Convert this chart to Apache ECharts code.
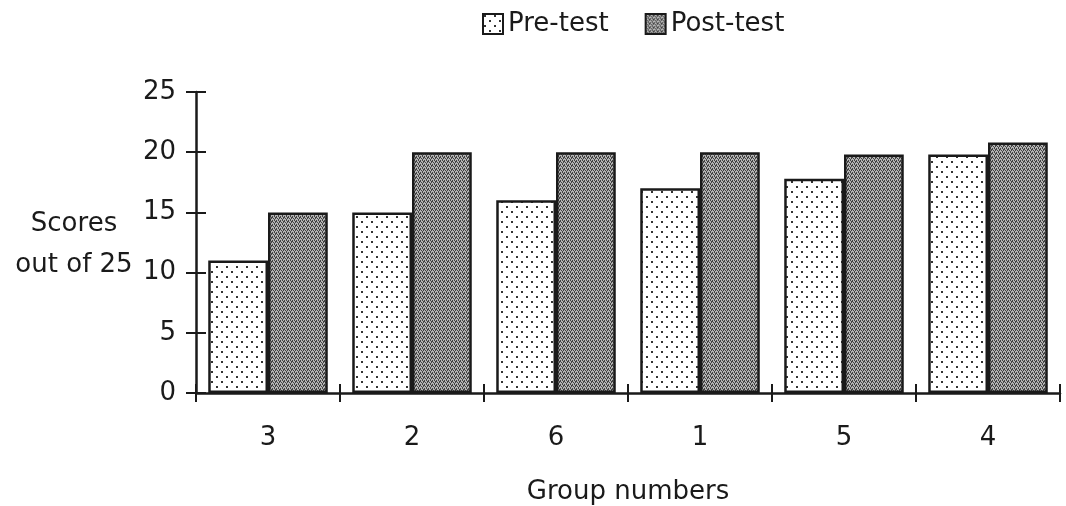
<!DOCTYPE html>
<html>
<head>
<meta charset="utf-8">
<script src="https://cdn.jsdelivr.net/npm/echarts@6/dist/echarts.min.js"></script>
<style>
  html, body { margin: 0; padding: 0; background: #fff; }
  #main { width: 1066px; height: 506px; }
</style>
</head>
<body>
<div id="main"></div>
<script>
let groups = ['3', '2', '6', '1', '5', '4']
let preTest = [11, 15, 16, 17, 17.8, 19.8]
let postTest = [15, 20, 20, 20, 19.8, 20.8]
let yTicks = [0, 5, 10, 15, 20, 25]

// dotted fills drawn on small canvases
function dots() {
    let c = document.createElement('canvas')
    c.width = 10; c.height = 10
    let g = c.getContext('2d')
    g.fillStyle = '#fff'
    g.fillRect(0, 0, 10, 10)
    g.fillStyle = '#333'
    g.fillRect(1, 1, 2, 2)
    g.fillRect(6, 6, 2, 2)
    return c
}
function grey() {
    let c = document.createElement('canvas')
    c.width = 4; c.height = 4
    let g = c.getContext('2d')
    g.fillStyle = '#b4b4b4'
    g.fillRect(0, 0, 4, 4)
    g.fillStyle = '#444'
    g.fillRect(0, 0, 1, 1)
    g.fillRect(2, 0, 1, 1)
    g.fillRect(1, 2, 1, 1)
    g.fillRect(3, 2, 1, 1)
    g.fillRect(0, 1, 1, 1)
    g.fillRect(2, 3, 1, 1)
    g.fillRect(3, 1, 1, 1)
    return c
}

let font = 'DejaVu Sans'
let ink = '#1a1a1a'
let fs = 26

var myChart = echarts.init(document.getElementById('main'))

var option = {
    animation: false,
    textStyle: { fontFamily: font, color: ink },
    legend: {
        top: 6,
        left: 477,
        icon: 'rect',
        itemWidth: 20,
        itemHeight: 20,
        itemGap: 36,
        textStyle: { fontSize: fs, color: ink, fontFamily: font },
        data: ['Pre-test', 'Post-test']
    },
    grid: { left: 196, right: 6, top: 92, bottom: 113, outerBoundsMode: 'none', containLabel: false },
    graphic: [{
        type: 'text',
        x: 74,
        y: 204,
        style: {
            text: 'Scores\nout of 25',
            font: fs + 'px "' + font + '"',
            fill: ink,
            textAlign: 'center',
            lineHeight: 41
        }
    }],
    xAxis: [{
        type: 'category',
        data: groups,
        name: 'Group numbers',
        nameLocation: 'middle',
        nameGap: 86,
        nameTextStyle: { fontSize: fs, color: ink },
        axisLine: { lineStyle: { color: ink, width: 2.5 } },
        axisTick: { show: true, length: 9, lineStyle: { color: ink, width: 2 } },
        axisLabel: { fontSize: fs, color: ink, margin: 32 }
    }, {
        type: 'category',
        data: groups,
        position: 'bottom',
        axisLine: { show: false },
        axisTick: { show: true, inside: true, length: 9, lineStyle: { color: ink, width: 2 } },
        axisLabel: { show: false }
    }],
    yAxis: [{
        type: 'value',
        min: 0,
        max: 25,
        interval: 5,
        splitLine: { show: false },
        axisLine: { show: true, lineStyle: { color: ink, width: 2.5 } },
        axisTick: { show: true, length: 10, lineStyle: { color: ink, width: 2 } },
        axisLabel: { fontSize: fs, color: ink, margin: 20 }
    }, {
        type: 'value',
        min: 0,
        max: 25,
        interval: 5,
        position: 'left',
        splitLine: { show: false },
        axisLine: { show: false },
        axisTick: { show: true, inside: true, length: 10, lineStyle: { color: ink, width: 2 } },
        axisLabel: { show: false }
    }],
    series: [{
        name: 'Pre-test',
        type: 'bar',
        data: preTest,
        barGap: '0%',
        barCategoryGap: '17%',
        itemStyle: { color: { image: dots(), repeat: 'repeat' }, borderColor: ink, borderWidth: 2.5 }
    }, {
        name: 'Post-test',
        type: 'bar',
        data: postTest,
        barGap: '0%',
        barCategoryGap: '17%',
        itemStyle: { color: { image: grey(), repeat: 'repeat' }, borderColor: ink, borderWidth: 2.5 }
    }]
}

myChart.setOption(option)
</script>
</body>
</html>
